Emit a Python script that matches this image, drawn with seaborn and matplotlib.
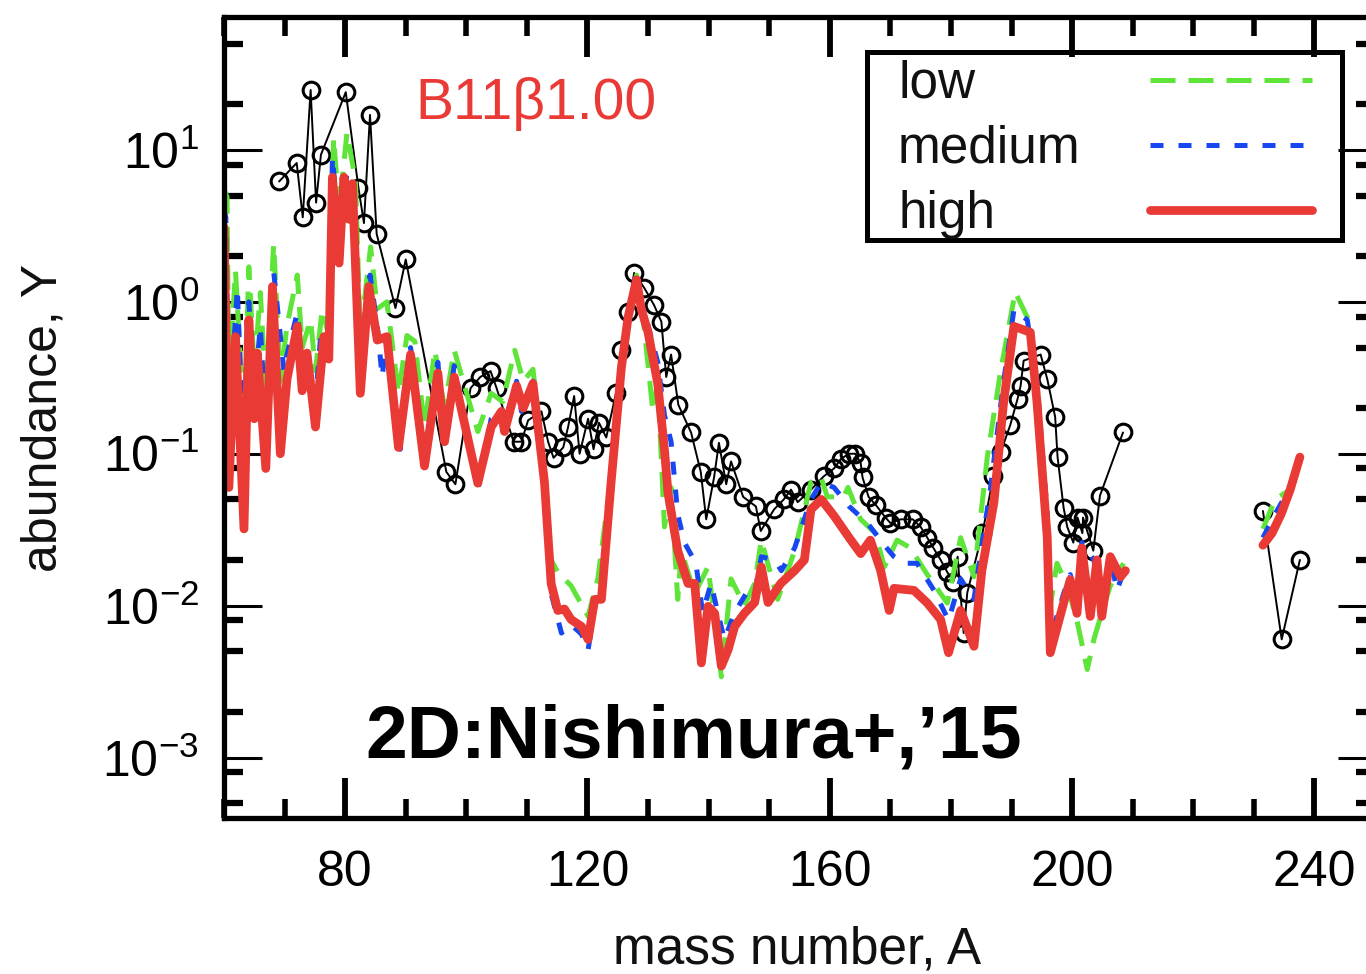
import numpy as np
import pandas as pd
import seaborn as sns
import matplotlib
matplotlib.use("Agg")
import matplotlib.pyplot as plt
from matplotlib.ticker import MultipleLocator, LogLocator, FuncFormatter, NullFormatter
from matplotlib.lines import Line2D
from matplotlib.patches import Rectangle

# observed solar r-process abundances (open circles), two pieces
obs_A1 = [69.1, 72.0, 73.0, 74.3, 75.2, 76.0, 80.1, 82.2, 83.1, 84.1, 85.2, 88.3, 90.0,
          96.7, 98.2, 100.7, 102.3, 104.0, 105.0, 107.8, 109.1, 110.2, 112.4, 113.5, 114.4,
          116.0, 116.8, 117.8, 118.7, 120.1, 121.0, 121.9, 123.1, 124.7, 125.6, 126.7, 127.7,
          129.4, 131.0, 132.2, 133.0, 133.8, 135.0, 137.1, 138.7, 139.6, 140.9, 141.7, 142.9,
          143.7, 145.7, 147.8, 148.6, 150.8, 152.4, 153.6, 154.7, 156.9, 159.0, 160.7, 161.8,
          163.1, 164.2, 165.1, 165.4, 166.4, 167.6, 169.2, 170.0, 171.7, 173.7, 175.0, 176.1,
          177.1, 178.3, 179.4, 180.4, 181.1, 182.1, 182.7, 185.2, 187.0, 188.2, 189.8, 191.0,
          191.5, 192.0, 194.8, 195.9, 197.2, 197.6, 198.6, 199.2, 200.2, 200.9, 201.7, 201.8,
          203.5, 204.6, 208.4]
obs_Y1 = [6.2, 8.2, 3.6, 24.8, 4.5, 9.3, 24.0, 5.6, 3.3, 17.0, 2.8, 0.91, 1.9,
          0.076, 0.063, 0.27, 0.32, 0.35, 0.27, 0.12, 0.12, 0.166, 0.19, 0.12, 0.094,
          0.11, 0.15, 0.24, 0.10, 0.17, 0.107, 0.16, 0.128, 0.25, 0.48, 0.86, 1.55,
          1.23, 0.95, 0.74, 0.32, 0.45, 0.21, 0.138, 0.076, 0.037, 0.07, 0.118, 0.063,
          0.089, 0.052, 0.045, 0.031, 0.043, 0.05, 0.058, 0.048, 0.058, 0.071, 0.08, 0.092,
          0.10, 0.10, 0.087, 0.07, 0.052, 0.046, 0.038, 0.035, 0.037, 0.037, 0.033, 0.028,
          0.024, 0.02, 0.0166, 0.0144, 0.021, 0.0066, 0.0122, 0.030, 0.071, 0.102, 0.155, 0.23,
          0.28, 0.41, 0.45, 0.31, 0.175, 0.095, 0.044, 0.033, 0.026, 0.038, 0.030, 0.038,
          0.023, 0.053, 0.138]
obs_A2 = [231.5, 234.6, 237.6]
obs_Y2 = [0.042, 0.006, 0.02]

# model "low"
low_A1 = [60.0, 60.5, 60.8, 61.9, 63.3, 64.1, 65.0, 66.0, 66.9, 68.2, 69.3, 70.4, 72.1, 72.9,
          74.3, 75.1, 76.2, 77.3, 78.1, 79.0, 80.3, 81.7, 82.5, 84.2, 85.3, 86.9, 88.8, 90.2,
          91.5, 93.1, 94.8, 96.4, 98.0, 101.9, 104.1, 106.0, 108.0, 109.4, 111.0, 112.9, 114.0,
          115.1, 117.3, 120.1, 121.7, 123.9, 125.6, 126.7, 128.1, 128.9, 130.8, 131.6, 132.7,
          133.8, 134.9, 135.5, 137.7, 139.9, 141.0, 142.1, 143.7, 145.9, 147.6, 148.7, 151.4,
          154.2, 156.9, 158.5, 159.6, 162.3, 163.0, 165.1, 167.5, 169.0, 171.1, 173.3, 176.1,
          178.3, 179.4, 181.6, 183.8, 186.0, 188.2, 190.6, 193.1, 194.8, 196.4, 197.5, 199.2,
          200.8, 202.5, 203.6, 204.9, 206.3, 208.5]
low_Y1 = [5.5, 4.9, 0.3, 1.6, 0.15, 1.7, 0.35, 1.15, 0.25, 2.4, 0.3, 0.7, 1.5, 0.5,
          0.76, 0.35, 0.89, 0.6, 12.0, 4.0, 13.0, 6.3, 0.6, 2.3, 0.9, 1.0, 0.25, 0.6,
          0.55, 0.15, 0.48, 0.2, 0.48, 0.14, 0.25, 0.22, 0.48, 0.3, 0.36, 0.08, 0.02,
          0.0166, 0.0135, 0.0085, 0.015, 0.07, 0.4, 0.85, 1.5, 1.0, 0.19, 0.3, 0.033,
          0.06, 0.011, 0.023, 0.012, 0.018, 0.008, 0.0034, 0.015, 0.01, 0.014, 0.027, 0.011,
          0.023, 0.065, 0.071, 0.052, 0.052, 0.06, 0.037, 0.03, 0.018, 0.027, 0.024, 0.016,
          0.012, 0.0104, 0.028, 0.0155, 0.095, 0.35, 1.16, 0.72, 0.1, 0.01, 0.019, 0.0135,
          0.008, 0.0038, 0.006, 0.009, 0.0135, 0.019]
low_A2 = [231.5, 233.5, 236.0, 237.6]
low_Y2 = [0.032, 0.05, 0.058, 0.09]

# model "medium"
med_A1 = [60.0, 60.3, 60.8, 62.2, 63.3, 64.1, 65.0, 66.0, 66.9, 68.2, 69.9, 70.4, 72.1, 72.9,
          73.7, 75.1, 75.9, 77.3, 77.9, 79.0, 80.3, 81.2, 82.5, 84.1, 85.3, 86.1, 86.9, 89.1,
          90.8, 93.1, 95.3, 96.4, 98.0, 101.9, 104.1, 105.8, 106.3, 108.3, 109.1, 111.0, 112.9,
          114.0, 115.7, 117.3, 119.0, 120.1, 121.2, 122.3, 123.9, 125.6, 126.7, 128.1, 128.9,
          130.0, 131.6, 132.7, 133.8, 134.9, 136.0, 137.9, 139.0, 140.4, 141.5, 142.6, 144.3,
          146.5, 147.6, 148.7, 150.9, 152.0, 154.2, 156.9, 158.6, 160.7, 163.2, 166.2, 167.5,
          169.0, 170.6, 172.2, 174.4, 177.2, 179.6, 181.6, 183.8, 185.1, 186.5, 188.7, 190.4,
          192.6, 194.2, 195.9, 196.4, 198.6, 199.7, 200.8, 201.6, 203.6, 204.9, 206.3, 207.4,
          208.8]
med_Y1 = [4.0, 3.6, 0.15, 1.23, 0.08, 1.0, 0.25, 0.69, 0.15, 1.58, 0.35, 0.45, 0.85, 0.35,
          0.46, 0.22, 0.56, 0.5, 9.0, 2.8, 7.0, 6.5, 0.35, 1.5, 0.7, 0.32, 0.6, 0.107,
          0.5, 0.1, 0.4, 0.13, 0.38, 0.058, 0.17, 0.2, 0.16, 0.3, 0.19, 0.3, 0.06,
          0.012, 0.0066, 0.0075, 0.0065, 0.0051, 0.01, 0.012, 0.065, 0.38, 0.8, 1.4, 0.95,
          0.7, 0.4, 0.18, 0.12, 0.04, 0.026, 0.019, 0.009, 0.014, 0.009, 0.006, 0.009,
          0.0126, 0.012, 0.021, 0.02, 0.017, 0.024, 0.05, 0.065, 0.06, 0.045, 0.035, 0.03,
          0.025, 0.021, 0.019, 0.019, 0.0126, 0.008, 0.015, 0.011, 0.025, 0.058, 0.3, 0.89,
          0.76, 0.3, 0.04, 0.006, 0.012, 0.016, 0.01, 0.026, 0.02, 0.01, 0.021, 0.0126,
          0.018]
med_A2 = [231.5, 233.5, 236.0, 237.6]
med_Y2 = [0.028, 0.04, 0.06, 0.095]

# model "high"
high_A1 = [60.0, 60.8, 61.9, 63.3, 64.1, 65.0, 65.5, 66.9, 68.0, 69.3, 70.4, 72.1, 72.9, 73.7,
           75.1, 76.5, 77.3, 77.9, 79.0, 79.8, 80.6, 81.2, 82.5, 83.9, 85.3, 86.9, 88.8, 90.8,
           93.1, 95.3, 96.4, 98.0, 101.9, 104.1, 105.8, 106.3, 108.3, 109.4, 111.0, 112.9,
           114.0, 115.1, 116.2, 117.3, 119.0, 120.1, 121.2, 122.3, 123.9, 125.6, 126.7, 128.1,
           128.9, 130.0, 131.6, 132.7, 133.3, 134.9, 136.6, 137.7, 138.8, 139.9, 141.0, 142.1,
           143.2, 144.3, 145.9, 147.6, 148.7, 149.8, 151.9, 154.2, 155.8, 156.9, 158.6, 160.7,
           163.2, 165.1, 166.7, 168.4, 169.8, 170.6, 173.9, 176.1, 178.3, 179.6, 181.6, 183.8,
           185.1, 187.1, 188.7, 190.4, 193.1, 194.2, 195.9, 196.4, 198.6, 199.7, 200.8, 201.6,
           203.0, 204.1, 204.9, 206.3, 208.0, 208.8]
high_Y1 = [3.1, 0.06, 0.59, 0.032, 0.76, 0.17, 0.46, 0.08, 1.26, 0.10, 0.31, 0.69, 0.26, 0.46,
           0.15, 0.59, 0.42, 6.6, 1.8, 6.6, 3.5, 6.0, 0.25, 1.26, 0.56, 0.59, 0.11, 0.45,
           0.083, 0.34, 0.12, 0.32, 0.064, 0.15, 0.19, 0.14, 0.28, 0.20, 0.29, 0.065,
           0.014, 0.0093, 0.0095, 0.0081, 0.0073, 0.006, 0.011, 0.011, 0.065, 0.37, 0.79, 1.4,
           0.89, 0.63, 0.29, 0.107, 0.055, 0.023, 0.014, 0.014, 0.0042, 0.0099, 0.0089, 0.004,
           0.0051, 0.0073, 0.0089, 0.0105, 0.018, 0.0105, 0.014, 0.017, 0.02, 0.043, 0.05, 0.039,
           0.028, 0.022, 0.027, 0.017, 0.0093, 0.013, 0.0126, 0.0104, 0.0081, 0.0049, 0.0093, 0.0054,
           0.017, 0.048, 0.22, 0.69, 0.63, 0.22, 0.028, 0.0049, 0.0104, 0.0148, 0.0089, 0.024,
           0.0085, 0.02, 0.0085, 0.021, 0.0155, 0.017]
high_A2 = [231.5, 233.0, 234.5, 236.0, 237.6]
high_Y2 = [0.025, 0.03, 0.04, 0.058, 0.095]

labels = ["low", "medium", "high"]
colors = {"low": "#5fe43a", "medium": "#1747f0", "high": "#e93a36"}


def frame(a1, y1, a2, y2):
    return pd.DataFrame({"A": list(a1) + list(a2),
                         "Y": list(y1) + list(y2),
                         "seg": [0] * len(a1) + [1] * len(a2)})


df_obs = frame(obs_A1, obs_Y1, obs_A2, obs_Y2)
df_low = frame(low_A1, low_Y1, low_A2, low_Y2)
df_med = frame(med_A1, med_Y1, med_A2, med_Y2)
df_high = frame(high_A1, high_Y1, high_A2, high_Y2)

sns.set_theme(style="ticks")
plt.rcParams['font.family'] = ['Liberation Sans', 'DejaVu Sans']
plt.rcParams['mathtext.default'] = 'regular'
plt.rcParams['axes.linewidth'] = 3.8

fig = plt.figure(figsize=(13.66, 9.74), dpi=100)
ax = fig.add_axes([224 / 1366, 1 - 818 / 974, (1375 - 224) / 1366, (818 - 17) / 974])
ax.set_yscale('log')

low_dash = (0, (5.0, 2.6))
med_dash = (0, (2.6, 3.0))

sns.lineplot(data=df_obs, x="A", y="Y", units="seg", estimator=None, sort=False,
             color="black", linewidth=1.4, marker="o", markersize=12,
             markerfacecolor="none", markeredgecolor="black", markeredgewidth=2.2,
             legend=False, ax=ax)
sns.lineplot(data=df_low, x="A", y="Y", units="seg", estimator=None, sort=False,
             color=colors["low"], linewidth=3.6, linestyle=low_dash, legend=False, ax=ax)
sns.lineplot(data=df_med, x="A", y="Y", units="seg", estimator=None, sort=False,
             color=colors["medium"], linewidth=3.6, linestyle=med_dash, legend=False, ax=ax)
sns.lineplot(data=df_high, x="A", y="Y", units="seg", estimator=None, sort=False,
             color=colors["high"], linewidth=6.3, legend=False, ax=ax)

ax.set_xlim(60, 250)
ax.set_ylim(4.0e-4, 75)

# gnuplot-like ticks: inward, mirrored
ax.xaxis.set_major_locator(MultipleLocator(40))
ax.xaxis.set_minor_locator(MultipleLocator(10))
ax.yaxis.set_major_locator(LogLocator(base=10, numticks=20))
ax.yaxis.set_minor_locator(LogLocator(base=10, subs=(2, 5, 8), numticks=20))
ax.yaxis.set_major_formatter(FuncFormatter(lambda v, p: r'$10^{%d}$' % round(np.log10(v))))
ax.yaxis.set_minor_formatter(NullFormatter())

ax.tick_params(axis='both', which='both', direction='in', top=True, right=True,
               colors='black', labelsize=36)
ax.tick_params(axis='x', which='major', length=29, width=4.2, pad=23)
ax.tick_params(axis='x', which='minor', length=14, width=4.0)
ax.tick_params(axis='y', which='major', length=27, width=2.2, pad=18)
ax.tick_params(axis='y', which='minor', length=14, width=4.5)

for s in ax.spines.values():
    s.set_color('black')

ax.set_xlabel("mass number, A", fontsize=37, color='#111111')
ax.set_ylabel("abundance, Y", fontsize=36, color='#111111')
ax.xaxis.set_label_coords(0.498, -0.134)
ax.yaxis.set_label_coords(-0.137, 0.5)

ax.text(0.166, 0.892, "B11β1.00", transform=ax.transAxes, color=colors["high"],
        fontsize=41, ha='left', va='center')
ax.text(0.1225, 0.075, "2D:Nishimura+,’15", transform=ax.transAxes, color='black',
        fontsize=54, fontweight='bold', ha='left', va='baseline')

# legend: text left, line sample right, in a square box
handles = [Line2D([], [], color=colors["low"], linewidth=3.6, linestyle=low_dash),
           Line2D([], [], color=colors["medium"], linewidth=3.6, linestyle=med_dash),
           Line2D([], [], color=colors["high"], linewidth=6.3)]
leg_fs = 37
leg_pad = 1.34
leg = ax.legend(handles, labels, loc='upper left', bbox_to_anchor=(0.5856, 0.9465),
                markerfirst=False, frameon=False, fontsize=leg_fs, borderpad=0.0,
                borderaxespad=0.0, handlelength=3.17, handletextpad=leg_pad,
                labelspacing=0.31)
for t in leg.get_texts():
    t.set_color('#111111')

# push the shorter labels left so every label starts at the same x
renderer = fig.canvas.get_renderer()
widths = [t.get_window_extent(renderer).width * 72 / fig.dpi for t in leg.get_texts()]
rows = leg._legend_handle_box.get_children()[0].get_children()
for row, w in zip(rows, widths):
    row.sep = leg_pad * leg_fs + (max(widths) - w)

ax.add_patch(Rectangle((0.5586, 0.7216), 0.4127, 0.2347, transform=ax.transAxes,
                       fill=False, edgecolor='black', linewidth=3.6, zorder=5,
                       clip_on=False))

fig.savefig("out.png", dpi=100)
